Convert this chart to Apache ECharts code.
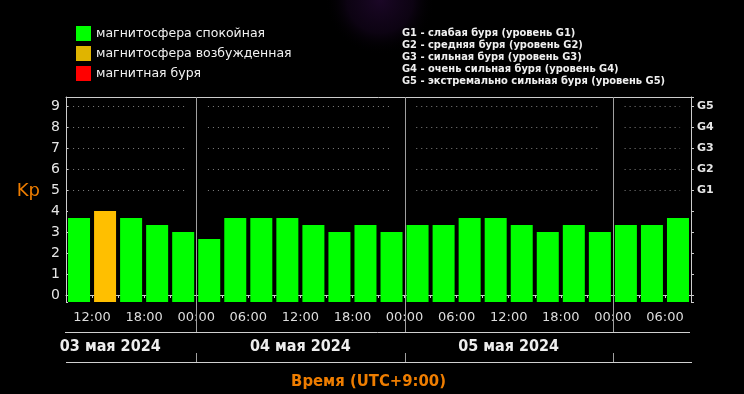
<!DOCTYPE html>
<html><head><meta charset="utf-8">
<script src="https://cdn.jsdelivr.net/npm/echarts@6/dist/echarts.min.js"></script>
<style>html,body{margin:0;padding:0;background:#000;}#c{width:744px;height:394px;}</style>
</head><body><div id="c"></div>
<script>
// ---- data ----
const slotStarts = ['09:00','12:00','15:00','18:00','21:00',
  '00:00','03:00','06:00','09:00','12:00','15:00','18:00','21:00',
  '00:00','03:00','06:00','09:00','12:00','15:00','18:00','21:00',
  '00:00','03:00','06:00'];
const boundaryTimes = ['09:00','12:00','15:00','18:00','21:00',
  '00:00','03:00','06:00','09:00','12:00','15:00','18:00','21:00',
  '00:00','03:00','06:00','09:00','12:00','15:00','18:00','21:00',
  '00:00','03:00','06:00','09:00'];
const kpValues = [3.67,4.00,3.67,3.33,3.00,
  2.67,3.67,3.67,3.67,3.33,3.00,3.33,3.00,
  3.33,3.33,3.67,3.67,3.33,3.00,3.33,3.00,
  3.33,3.33,3.67];
const dayLabels = ['03 мая 2024','04 мая 2024','05 мая 2024'];
const dayStartBoundaries = [5,13,21];
const dayLabelCenters = [1.7,9,17];
const gLevelLabels = ['G1','G2','G3','G4','G5']; // at Kp 5..9
const legendNames = ['магнитосфера спокойная','магнитосфера возбужденная','магнитная буря'];
const gDescriptions = ['G1 - слабая буря (уровень G1)','G2 - средняя буря (уровень G2)','G3 - сильная буря (уровень G3)','G4 - очень сильная буря (уровень G4)','G5 - экстремально сильная буря (уровень G5)'];
const xAxisTitle = 'Время (UTC+9:00)';
const yAxisTitle = 'Kp';
const yMin = -1/3, yMax = 9.43;

// ---- styles ----
const barColors = ['#00ff00','#ffbf00','#ff0000'];
const legendColors = ['#00ff00','#e0b400','#ff0000'];
const fontMain = 'DejaVu Sans';
const fontCond = '"DejaVu Sans Condensed","Liberation Sans Narrow","Liberation Sans",sans-serif';
const orange = '#ee7d00';

function levelOf(v){ return v >= 5 ? 2 : (v >= 4 ? 1 : 0); }
const seriesData = [0,1,2].map(l => kpValues.map(v => levelOf(v) === l ? v : '-'));

const chart = echarts.init(document.getElementById('c'), null, {renderer:'canvas'});
const option = {
  backgroundColor: '#000',
  animation: false,
  grid: {left: 66, right: 53, top: 97, bottom: 92, containLabel: false, outerBoundsMode: 'none'},
  legend: {
    left: 76, top: 26, orient: 'vertical', itemWidth: 15, itemHeight: 15, itemGap: 5, padding: 0,
    icon: 'rect', selectedMode: false,
    textStyle: {color: '#f2f2f2', fontFamily: fontMain, fontSize: 12.5},
    data: legendNames.map((n,i) => ({name: n, itemStyle: {color: legendColors[i]}}))
  },
  xAxis: [
    {type: 'category', data: slotStarts, boundaryGap: true,
     axisLine: {lineStyle: {color: '#cccccc'}},
     axisTick: {show: true, interval: 0, length: 3, lineStyle: {color: '#cccccc'}},
     axisLabel: {show: false}, splitLine: {show: false}},
    {type: 'category', data: boundaryTimes, boundaryGap: false, position: 'bottom',
     axisLine: {show: false}, axisTick: {show: false},
     axisLabel: {interval: (i) => i % 2 === 1, color: '#dddddd', fontFamily: fontMain, fontSize: 13, margin: 9},
     name: xAxisTitle, nameLocation: 'middle', nameGap: 71,
     nameTextStyle: {color: orange, fontFamily: fontCond, fontWeight: 'bold', fontSize: 16.5, padding: [0,20,0,0]}},
    {type: 'category', data: slotStarts, position: 'top',
     axisLine: {show: true, lineStyle: {color: '#cccccc'}}, axisTick: {show: false}, axisLabel: {show: false}}
  ],
  yAxis: [
    {type: 'value', min: yMin, max: yMax, startValue: yMin, splitNumber: 10, position: 'left',
     axisLine: {show: true, lineStyle: {color: '#cccccc'}},
     axisTick: {show: true, inside: true, length: 2, lineStyle: {color: '#cccccc'}},
     axisLabel: {color: '#e6e6e6', fontFamily: fontMain, fontSize: 14, margin: 6,
       showMinLabel: true, showMaxLabel: true,
       formatter: v => (Math.abs(v - Math.round(v)) < 1e-6 && v >= 0 && v <= 9) ? String(Math.round(v)) : ''},
     splitLine: {show: false},
     name: yAxisTitle, nameLocation: 'middle', nameRotate: 0, nameGap: 26,
     nameTextStyle: {color: orange, fontFamily: fontMain, fontSize: 18, verticalAlign: 'bottom', lineHeight: 17}},
    {type: 'value', min: yMin, max: yMax, splitNumber: 10, position: 'right',
     axisLine: {show: true, lineStyle: {color: '#cccccc'}},
     axisTick: {show: true, length: 3, lineStyle: {color: '#cccccc'}},
     axisLabel: {color: '#e6e6e6', fontFamily: fontMain, fontWeight: 'bold', fontSize: 11, margin: 6,
       formatter: v => { const r = Math.round(v); return (Math.abs(v - r) < 1e-6 && r >= 5 && r <= 9) ? gLevelLabels[r-5] : ''; }},
     splitLine: {show: false}}
  ],
  series: legendNames.map((n,i) => ({
    name: n, type: 'bar', xAxisIndex: 0, yAxisIndex: 0,
    data: seriesData[i], barWidth: 22, barGap: '-100%',
    itemStyle: {color: barColors[i]}
  }))
};
chart.setOption(option);

// ---- decorations positioned through the library's scales ----
const b0 = chart.convertToPixel({xAxisIndex: 1}, 0);
const b24 = chart.convertToPixel({xAxisIndex: 1}, 24);
const bx = b => b0 + (b24 - b0) * b / 24;
const yBottom = chart.convertToPixel({yAxisIndex: 0}, yMin);
const yTop = chart.convertToPixel({yAxisIndex: 0}, yMax);
const px = v => Math.round(v) + 0.5;
const els = [];
els.push({type: 'ellipse', silent: true, z: -100,
  shape: {cx: 380, cy: 0, rx: 170, ry: 55},
  style: {fill: new echarts.graphic.RadialGradient(0.5, 0.5, 0.5, [
    {offset: 0, color: 'rgba(60,15,85,0.45)'},
    {offset: 0.6, color: 'rgba(45,11,66,0.28)'},
    {offset: 1, color: 'rgba(0,0,0,0)'}])}});
// dotted grid lines for Kp 5..9, broken around day dividers
const segStarts = [0, ...dayStartBoundaries];
const segEnds = [...dayStartBoundaries, 24];
for (let v = 5; v <= 9; v++) {
  const y = px(chart.convertToPixel({yAxisIndex: 0}, v));
  segStarts.forEach((s, k) => {
    const e = segEnds[k];
    const xs = bx(s === 0 ? 0.08 : s + 0.45);
    const xe = bx(e === 24 ? 23.58 : e - 0.45);
    els.push({type: 'line', silent: true, z: 5, shape: {x1: xs, y1: y, x2: xe, y2: y},
      style: {stroke: '#808080', lineWidth: 1, lineDash: [1, 4]}});
  });
}
// day dividers
dayStartBoundaries.forEach(b => {
  const x = px(bx(b));
  els.push({type: 'line', silent: true, z: 10, shape: {x1: x, y1: yTop, x2: x, y2: yBottom + 30},
    style: {stroke: '#a0a0a0', lineWidth: 1}});
  els.push({type: 'line', silent: true, z: 10, shape: {x1: x, y1: yBottom + 51, x2: x, y2: yBottom + 60},
    style: {stroke: '#a0a0a0', lineWidth: 1}});
});
// date band lines
els.push({type: 'line', silent: true, z: 10, shape: {x1: bx(0) - 1, y1: px(yBottom + 30), x2: bx(24) - 1, y2: px(yBottom + 30)},
  style: {stroke: '#d0d0d0', lineWidth: 1}});
els.push({type: 'line', silent: true, z: 10, shape: {x1: bx(0), y1: px(yBottom + 60), x2: bx(24) + 1, y2: px(yBottom + 60)},
  style: {stroke: '#d0d0d0', lineWidth: 1}});
// date labels
dayLabels.forEach((t, i) => {
  els.push({type: 'text', silent: true, z: 10, x: bx(dayLabelCenters[i]), y: yBottom + 45,
    style: {text: t, fill: '#eeeeee', font: 'bold 16px ' + fontCond, align: 'center', verticalAlign: 'middle'}});
});
// G level descriptions
els.push({type: 'text', silent: true, z: 10, x: 402, y: 27,
  style: {text: gDescriptions.join('\n'), fill: '#f0f0f0', font: 'bold 11px ' + fontCond, lineHeight: 12, align: 'left', verticalAlign: 'top'}});
chart.setOption({graphic: {elements: els}});
</script>
</body></html>
